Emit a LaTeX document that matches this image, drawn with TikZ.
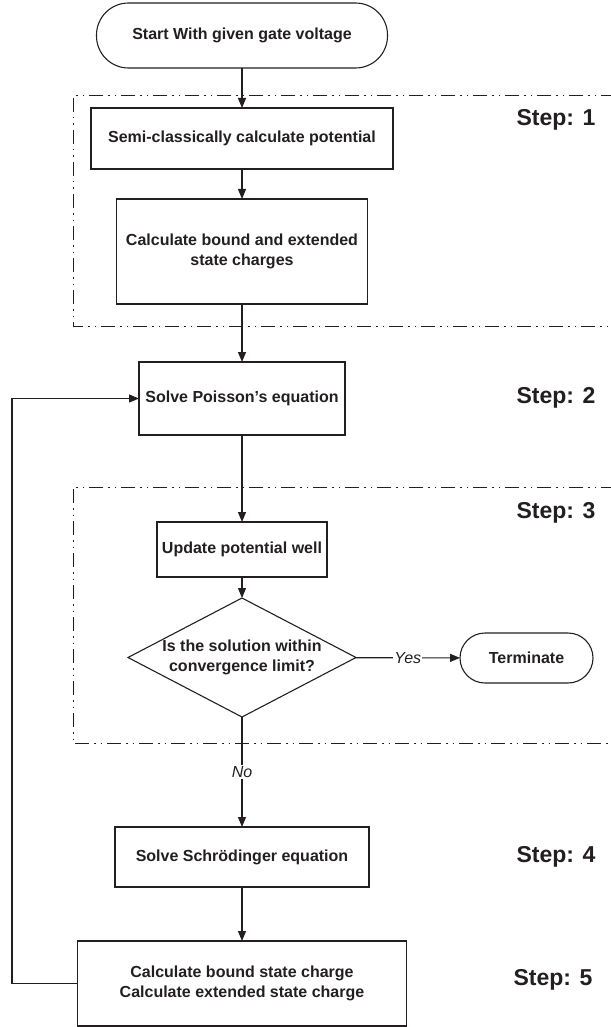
\documentclass[tikz,border=0pt]{standalone}
\usepackage{fontspec}
\setmainfont{Liberation Sans}
\usetikzlibrary{arrows.meta,shapes.geometric}
\definecolor{ink}{HTML}{231F20}
\begin{document}
\begin{tikzpicture}[x=1pt,y=-1pt,
  base/.style={draw=ink, text=ink, line width=1.1pt, inner sep=0pt, outer sep=0pt, align=center,
    font=\bfseries\fontsize{16}{20}\selectfont},
  procbox/.style={base, rectangle},
  termbox/.style={base, rectangle, rounded corners=#1},
  decbox/.style={base, diamond, aspect=1.916},
  steplbl/.style={text=ink, font=\bfseries\fontsize{23}{26}\selectfont, inner sep=0pt},
  edgelbl/.style={text=ink, font=\itshape\fontsize{16}{19}\selectfont, fill=white, inner sep=1pt},
  flow/.style={draw=ink, line width=1.1pt, -{Triangle[length=10pt,width=8pt]}},
  plain/.style={draw=ink, line width=1.1pt},
  region/.style={draw=ink, line width=1pt,
    dash pattern=on 14pt off 5pt on 1.5pt off 5pt on 1.5pt off 5pt}
]
\useasboundingbox (0,0) rectangle (610,1027);

% step regions
\draw[region] (615,96) -- (73,96) -- (73,326) -- (615,326);
\draw[region] (615,487) -- (73,487) -- (73,743) -- (615,743);

% nodes
\node[termbox=32pt, minimum width=291pt, minimum height=65pt] (start) at (242,35.5) {Start With given gate voltage};
\node[procbox, minimum width=302pt, minimum height=61pt] (semi) at (242,138.5) {Semi-classically calculate potential};
\node[procbox, minimum width=251pt, minimum height=105pt] (calc) at (242,251.5) {Calculate bound and extended\\state charges};
\node[procbox, minimum width=206pt, minimum height=73pt] (poisson) at (242,398.5) {Solve Poisson’s equation};
\node[procbox, minimum width=170pt, minimum height=55pt] (update) at (242,549.5) {Update potential well};
\node[decbox, minimum width=228pt, minimum height=119pt] (dec) at (242,657.5) {Is the solution within\\convergence limit?};
\node[termbox=25pt, minimum width=133pt, minimum height=50pt] (term) at (526.5,658) {Terminate};
\node[procbox, minimum width=254pt, minimum height=60pt] (schr) at (242,857) {Solve Schrödinger equation};
\node[procbox, minimum width=329pt, minimum height=85pt] (charge) at (242,983.5) {Calculate bound state charge\\Calculate extended state charge};

% step labels
\node[steplbl] (s1) at (556,120) {Step: 1};
\node[steplbl] (s2) at (556,398) {Step: 2};
\node[steplbl] (s3) at (556,513) {Step: 3};
\node[steplbl] (s4) at (556,857) {Step: 4};
\node[steplbl] (s5) at (553,980) {Step: 5};

% connectors
\draw[flow] (start) -- (semi);
\draw[flow] (semi) -- (calc);
\draw[flow] (calc) -- (poisson);
\draw[flow] (poisson) -- (update);
\draw[flow] (update) -- (dec);
\draw[flow] (dec) -- node[edgelbl] (yes) {Yes} (term);
\draw[flow] (dec) -- node[edgelbl] (no) {No} (schr);
\draw[flow] (schr) -- (charge);
\coordinate (loop) at (12,983.5);
\draw[flow] (charge.west) -- (loop) |- (poisson.west);
\end{tikzpicture}
\end{document}
